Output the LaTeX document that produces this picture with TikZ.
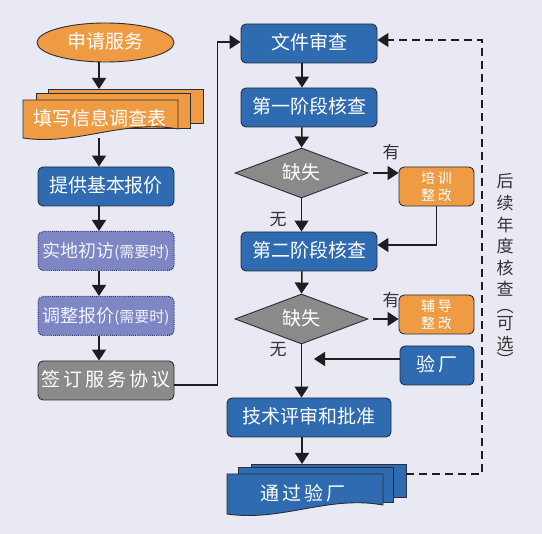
\documentclass[tikz,border=0pt]{standalone}
\usepackage{fontspec}
\setmainfont{Noto Sans CJK SC}
\usetikzlibrary{arrows.meta,shapes.geometric,calc}
\definecolor{bg}{HTML}{E8E9F3}
\definecolor{boxblue}{HTML}{2E6BB0}
\definecolor{boxorange}{HTML}{EF9B43}
\definecolor{boxgray}{HTML}{8A8A8A}
\definecolor{boxpurple}{HTML}{7F86C4}
\definecolor{edge}{HTML}{2A2D3A}
\definecolor{dotedge}{HTML}{2A2F6A}
\definecolor{linecol}{HTML}{1E1E1E}
\definecolor{labelcol}{HTML}{333333}
% document (wavy bottom) shape: style, x1, ytop, x2, ybottom-left
\newcommand{\docshape}[5]{%
  \filldraw[#1] ({#2},{#3}) -- ({#4},{#3}) -- ({#4},{#5-9})
    .. controls ({#4-0.35*(#4-#2)},{#5-19}) and ({#2+0.35*(#4-#2)},{#5+8}) .. ({#2},{#5}) -- cycle;}
\begin{document}
\begin{tikzpicture}[x=1pt,y=-1pt,
  base/.style={draw=edge, line width=0.9pt, inner sep=0pt, text=white,
    font=\fontsize{19}{22}\selectfont, text height=15pt, text depth=2pt},
  box/.style={base, rounded corners=5pt, minimum width=136pt, minimum height=39pt, fill=boxblue},
  pbox/.style={box, fill=boxpurple, draw=dotedge, densely dotted, line width=1pt, text=white!95!blue},
  sbox/.style={base, rounded corners=5pt, minimum width=75pt, minimum height=39pt, fill=boxorange,
    align=center, font=\fontsize{14}{16.5}\selectfont, text height=, text depth=},
  ell/.style={base, ellipse, fill=boxorange, minimum width=137pt, minimum height=39pt},
  dia/.style={base, diamond, fill=boxgray, aspect=2.66, minimum width=133pt, minimum height=50pt},
  lab/.style={text=labelcol, inner sep=0pt, font=\fontsize{17}{20}\selectfont},
  vlab/.style={text=labelcol, inner sep=0pt, align=center, font=\fontsize{17}{21.6}\selectfont},
  layer/.style={draw=edge, line width=0.9pt},
  arr/.style={draw=linecol, line width=1.5pt, -{Triangle[length=11pt,width=14pt]}},
  dline/.style={draw=linecol, line width=1.3pt, dash pattern=on 8pt off 5pt}
]
\fill[bg] (0,0) rectangle (542,534);
\useasboundingbox (0,0) rectangle (542,534);

\coordinate (lc) at (99,0);
\coordinate (rc) at (302,0);
\coordinate (fe) at (314,0);

% ---------- left column ----------
\node[ell] (apply) at (105.5,42.5) {申请服务};

\filldraw[layer, fill=boxorange] (48,89) rectangle (203,123);
\filldraw[layer, fill=boxorange] (36,93) rectangle (190,128);
\docshape{layer, fill=boxorange}{23}{100}{178}{138}
\node[base, draw=none, minimum width=155pt, minimum height=38pt] (form) at (100.5,119) {填写信息调查表};
\coordinate (formtop) at (99,89);

\node[box] (quote) at (106,186.5) {提供基本报价};
\node[pbox] (visit) at (106,251) {\fontsize{18}{20}\selectfont 实地初访\fontsize{15}{17}\selectfont(需要时)};
\node[pbox] (adjust) at (106,316) {\fontsize{18}{20}\selectfont 调整报价\fontsize{15}{17}\selectfont(需要时)};
\node[box, fill=boxgray] (sign) at (106,380.5) {签\,订\,服\,务\,协\,议};

% ---------- right column ----------
\node[box] (docrev) at (309,43.5) {文件审查};
\node[box] (stage1) at (309,107.5) {第一阶段核查};
\node[dia] (dia1) at (301.5,173) {缺失};
\node[sbox] (fix1) at (436.5,186.5) {培\hspace{3pt}训\\整\hspace{3pt}改};
\node[box] (stage2) at (309,251.5) {第二阶段核查};
\node[dia] (dia2) at (301.5,319) {缺失};
\node[sbox] (fix2) at (436.5,314.5) {辅\hspace{3pt}导\\整\hspace{3pt}改};
\node[box, minimum width=74pt] (factory) at (437,365.5) {验\,厂};
\node[box, minimum width=164pt] (tech) at (309,417.5) {技术评审和批准};

\filldraw[layer, fill=boxblue] (251,464) rectangle (406,497);
\filldraw[layer, fill=boxblue] (238,467) rectangle (393,502);
\docshape{layer, fill=boxblue}{227}{474}{383}{514}
\node[base, draw=none, minimum width=156pt, minimum height=38pt] (pass) at (303,494) {通\,过\,验\,厂};
\coordinate (passtop) at (302,464);
\coordinate (passR) at (406,474);

% labels
\node[lab] (yes1) at (391,152) {有};
\node[lab] (no1) at (278,220) {无};
\node[lab] (yes2) at (391,300) {有};
\node[lab] (no2) at (278,350) {无};
\node[vlab] (opt) at (505,270) {后\\续\\年\\度\\核\\查\\[-5pt]︵\\[-5pt]可\\选\\[-6pt]︶};

% ---------- connectors ----------
\draw[arr] (apply.south -| lc) -- (formtop);
\draw[arr] (form.south -| lc) -- (quote.north -| lc);
\draw[arr] (quote.south -| lc) -- (visit.north -| lc);
\draw[arr] (visit.south -| lc) -- (adjust.north -| lc);
\draw[arr] (adjust.south -| lc) -- (sign.north -| lc);
\draw[arr] ([yshift=-4.5pt]sign.east) -- ++(43,0) |- ([yshift=1.5pt]docrev.west);

\draw[arr] (docrev.south -| rc) -- (stage1.north -| rc);
\draw[arr] (stage1.south -| rc) -- (dia1.north);
\draw[arr] ([xshift=5pt]dia1.east) -- (dia1.east -| fix1.west);
\draw[arr] (dia1.south) -- (dia1.south |- stage2.north);
\draw[arr] (fix1.south) |- ([yshift=6.5pt]stage2.east);
\draw[arr] (stage2.south -| rc) -- (dia2.north);
\draw[arr] ([xshift=5pt]dia2.east) -- (dia2.east -| fix2.west);
\draw[arr] (dia2.south) -- (dia2.south |- tech.north);
\draw[arr] ([yshift=6.5pt]factory.west) -- ([yshift=6.5pt]factory.west -| fe);
\draw[arr] (tech.south -| rc) -- (passtop);
\draw[dline, -{Triangle[length=11pt,width=14pt]}] (passR) -- ++(76,0) |- ([yshift=3.5pt]docrev.east);
\end{tikzpicture}
\end{document}
